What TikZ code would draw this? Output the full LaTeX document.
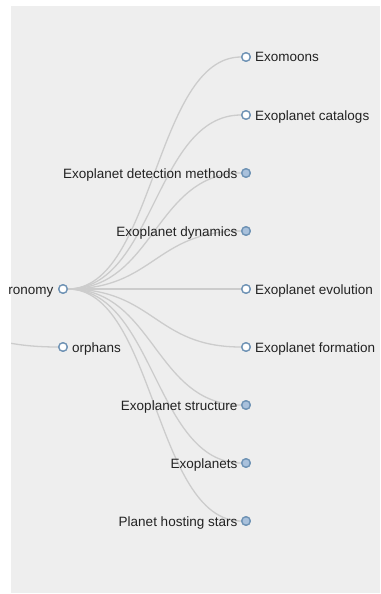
\documentclass[tikz,border=0pt]{standalone}
\usepackage{fontspec}
\setmainfont{Liberation Sans}
\definecolor{panel}{HTML}{EEEEEE}
\definecolor{linkc}{HTML}{CCCCCC}
\definecolor{ringc}{HTML}{6F93B5}
\definecolor{closedc}{HTML}{A9C1DC}
\definecolor{txt}{HTML}{222222}
\tikzset{
  treenode/.style={circle, draw=ringc, line width=1.3pt, minimum size=8.5pt, inner sep=0pt},
  opennode/.style={treenode, fill=white},
  closednode/.style={treenode, fill=closedc},
  treelink/.style={draw=linkc, line width=1.3pt},
  lbl/.style={inner sep=0pt, text=txt, font=\fontsize{13.5}{16}\selectfont},
}
\begin{document}
\begin{tikzpicture}[x=1pt,y=-1pt]
\useasboundingbox (0,0) rectangle (380,594);
\fill[panel] (11,6) rectangle (380,593);
% nodes
\node[opennode] (root) at (63,289) {};
\node[opennode] (orph) at (63,347) {};
\coordinate (top) at (-120,318);
\node[opennode] (c1) at (246,57) {};
\node[opennode] (c2) at (246,115) {};
\node[closednode] (c3) at (246,173) {};
\node[closednode] (c4) at (246,231) {};
\node[opennode] (c5) at (246,289) {};
\node[opennode] (c6) at (246,347) {};
\node[closednode] (c7) at (246,405) {};
\node[closednode] (c8) at (246,463) {};
\node[closednode] (c9) at (246,521) {};
% links
\begin{scope}[on background layer/.style={}]
\begin{scope}
\clip (11,6) rectangle (380,593);
\draw[treelink] (top) .. controls (-28.5,318) and (-28.5,347) .. (orph);
\end{scope}
\draw[treelink] (root) .. controls (154.5,289) and (154.5,57) .. (c1);
\draw[treelink] (root) .. controls (154.5,289) and (154.5,115) .. (c2);
\draw[treelink] (root) .. controls (154.5,289) and (154.5,173) .. (c3);
\draw[treelink] (root) .. controls (154.5,289) and (154.5,231) .. (c4);
\draw[treelink] (root) -- (c5);
\draw[treelink] (root) .. controls (154.5,289) and (154.5,347) .. (c6);
\draw[treelink] (root) .. controls (154.5,289) and (154.5,405) .. (c7);
\draw[treelink] (root) .. controls (154.5,289) and (154.5,463) .. (c8);
\draw[treelink] (root) .. controls (154.5,289) and (154.5,521) .. (c9);
\end{scope}
% redraw circles on top
\foreach \n/\s in {root/opennode,orph/opennode,c1/opennode,c2/opennode,c3/closednode,c4/closednode,c5/opennode,c6/opennode,c7/closednode,c8/closednode,c9/closednode}{
  \node[\s] at (\n) {};
}
% labels
\node[lbl, anchor=base east] (lroot) at (53.5,294) {ronomy};
\node[lbl, anchor=base west] (lorph) at (72,352) {orphans};
\node[lbl, anchor=base west] (l1) at (255,62) {Exomoons};
\node[lbl, anchor=base west] (l2) at (255,120) {Exoplanet catalogs};
\node[lbl, anchor=base east] (l3) at (237.5,178) {Exoplanet detection methods};
\node[lbl, anchor=base east] (l4) at (237.5,236) {Exoplanet dynamics};
\node[lbl, anchor=base west] (l5) at (255,294) {Exoplanet evolution};
\node[lbl, anchor=base west] (l6) at (255,352) {Exoplanet formation};
\node[lbl, anchor=base east] (l7) at (237.5,410) {Exoplanet structure};
\node[lbl, anchor=base east] (l8) at (237.5,468) {Exoplanets};
\node[lbl, anchor=base east] (l9) at (237.5,526) {Planet hosting stars};
\end{tikzpicture}
\end{document}
